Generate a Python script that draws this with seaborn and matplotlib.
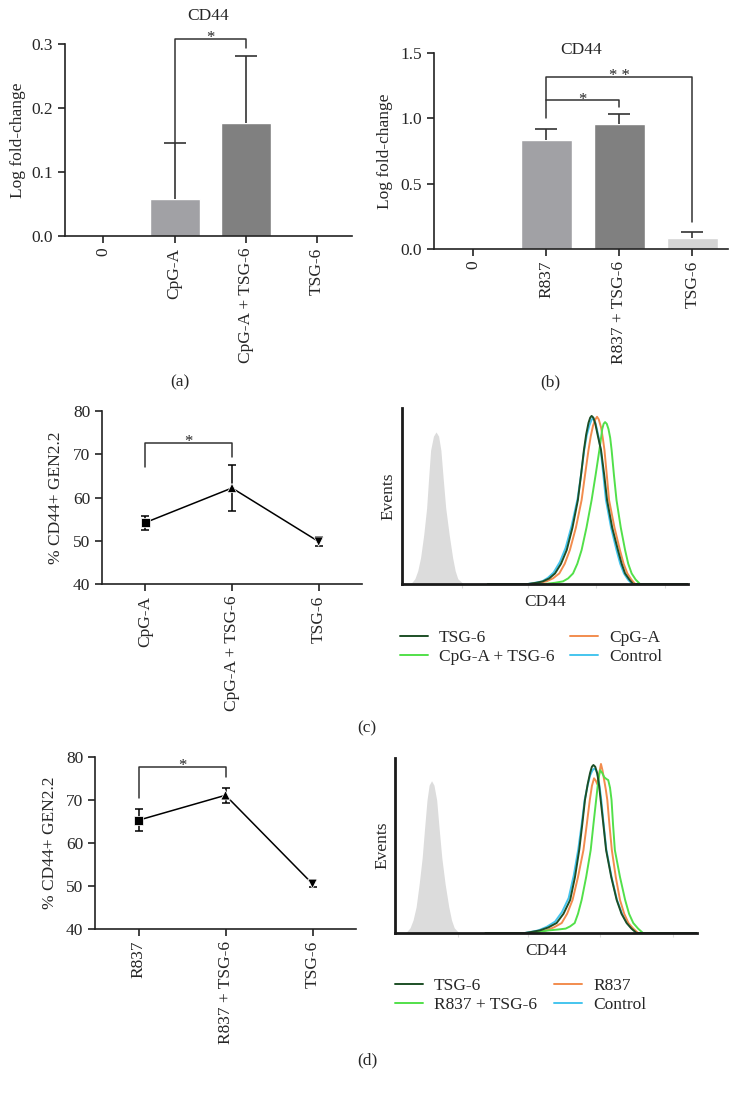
import numpy as np
import pandas as pd
import matplotlib
matplotlib.use("Agg")
import matplotlib.pyplot as plt
import seaborn as sns

sns.set_style("ticks")
plt.rcParams['font.family'] = ['Liberation Serif', 'DejaVu Serif']
plt.rcParams['font.size'] = 12

# ---- data ----
a_cats = ["0", "CpG-A", "CpG-A + TSG-6", "TSG-6"]
a_vals = [0.0, 0.058, 0.177, 0.0]
a_err = [0.0, 0.088, 0.104, 0.0]
a_colors = ["#a1a1a5", "#a1a1a5", "#808080", "#d4d4d4"]

b_cats = ["0", "R837", "R837 + TSG-6", "TSG-6"]
b_vals = [0.0, 0.834, 0.954, 0.082]
b_err = [0.0, 0.082, 0.079, 0.050]
b_colors = ["#a1a1a5", "#a1a1a5", "#808080", "#d4d4d4"]

c_cats = ["CpG-A", "CpG-A + TSG-6", "TSG-6"]
c_means = [54.2, 62.2, 49.8]
c_err = [1.6, 5.3, 1.0]

d_cats = ["R837", "R837 + TSG-6", "TSG-6"]
d_means = [65.3, 71.1, 50.5]
d_err = [2.5, 1.8, 0.8]

markers = ["s", "^", "v"]

# significance brackets: (left cat, right cat, bar height, left leg end, right leg end, text)
a_sig = [(1, 2, 0.308, 0.146, 0.293, "*")]
b_sig = [(1, 2, 1.14, 1.00, 1.09, "*"), (1, 3, 1.32, 1.14, 0.21, "* *")]
c_sig = [(0, 1, 72.6, 67.0, 69.4, "*")]
d_sig = [(0, 1, 77.7, 70.5, 75.3, "*")]

# flow cytometry histograms (x: CD44 channel 0-100, y: % of max events)
c_iso_x = [0, 2.5, 3.5, 4.5, 5.5, 6.5, 7.6, 8.6, 9.3, 10, 11, 11.9, 12.8, 13.6, 14.4, 15.3, 16.5, 17.7, 18.6, 19.5, 21.5, 30]
c_iso_y = [0, 0, 1, 3, 7.5, 15, 28, 43, 60, 76, 84, 86.4, 84, 76, 60, 43, 28, 15, 7.5, 3, 0, 0]
c_tsg_x = [30, 44, 47, 49.3, 51.5, 53.5, 55.6, 57.6, 59.6, 61.5, 62.6, 63.6, 64.4, 65.2, 65.8, 66.3, 66.9, 67.6, 68.5, 69.6, 70.7, 71.7, 73.5, 75.5, 76.8, 78, 79.5, 80.8, 100]
c_tsg_y = [0, 0, 0.7, 1.5, 3.2, 6, 11.5, 19.3, 32, 47.7, 62, 76, 85, 91.5, 94.5, 95.5, 94.5, 91, 84, 76, 62, 47.7, 32, 19.3, 11.5, 6, 2.5, 0, 0]
c_ctl_x = [30, 44, 46.5, 49, 51, 53, 55.2, 57.2, 59.3, 61.4, 62.6, 63.7, 64.6, 65.5, 66.2, 66.8, 67.4, 68.0, 68.8, 69.5, 70.4, 71.3, 73.1, 75.0, 76.3, 77.6, 79.0, 80.5, 100]
c_ctl_y = [0, 0, 0.7, 1.5, 3.5, 6.5, 12.5, 20.5, 33, 48.5, 62, 76, 84.5, 90, 93, 94.5, 93, 89, 83, 76, 62, 47.7, 32, 19.3, 11.5, 6, 2.5, 0, 0]
c_stim_x = [30, 45, 48, 50.5, 52.8, 55, 56.9, 58.7, 60.8, 62.8, 64.0, 65.2, 66.0, 66.8, 67.6, 68.2, 68.8, 69.6, 70.2, 70.8, 71.6, 72.4, 74.3, 76.2, 77.5, 78.8, 80.2, 81.5, 100]
c_stim_y = [0, 0, 0.7, 1.5, 3.2, 6, 11.5, 19.3, 32, 47.7, 62, 76, 84, 90, 93.5, 95, 93.5, 89, 83, 76, 62, 47.7, 32, 19.3, 11.5, 6, 2.5, 0, 0]
c_comb_x = [30, 50, 53.5, 56.3, 58.1, 59.8, 61.3, 62.8, 64.5, 66.3, 67.7, 69.0, 69.6, 70.0, 70.5, 71.0, 71.6, 72.2, 72.8, 73.3, 74.1, 75.0, 76.5, 78.0, 79.1, 80.3, 81.7, 83.2, 100]
c_comb_y = [0, 0, 0.7, 1.5, 3.2, 6, 11.5, 19.3, 32, 47.7, 62, 76, 83, 88, 91, 92, 91, 88, 83, 76, 62, 47.7, 32, 19.3, 11.5, 6, 2.5, 0, 0]

d_iso_x = [0, 3, 4, 5, 6, 7, 8, 9, 9.8, 10.6, 11.3, 12.1, 12.9, 13.8, 14.6, 15.5, 16.6, 17.8, 18.7, 19.6, 21.2, 30]
d_iso_y = [0, 0, 1, 3, 7.5, 15, 28, 43, 60, 76, 84.5, 87, 84.5, 76, 60, 43, 28, 15, 7.5, 3, 0, 0]
d_tsg_x = [30, 43, 45.5, 48, 50.8, 53.5, 55.8, 58, 59.6, 61, 62, 62.9, 63.8, 64.6, 65.2, 65.7, 66.3, 67, 67.6, 68.1, 69, 69.9, 71.6, 73.4, 75, 76.7, 78.3, 80, 100]
d_tsg_y = [0, 0, 0.7, 1.5, 3.2, 5.7, 11, 18.9, 32, 47.4, 62, 76, 85, 91.5, 95, 96, 95, 91, 84, 76, 62, 47.4, 32, 18.9, 11, 5.7, 2.5, 0, 0]
d_ctl_x = [30, 43, 45.2, 47.5, 50.2, 53, 55.3, 57.5, 59.2, 60.7, 61.8, 62.8, 63.8, 64.6, 65.4, 66.0, 66.6, 67.3, 67.8, 68.3, 69.1, 70, 71.7, 73.5, 75.2, 76.8, 78.5, 80.2, 100]
d_ctl_y = [0, 0, 0.7, 1.5, 3.5, 6.5, 12, 20, 33, 48, 62, 76, 84.5, 90, 93, 94, 93, 89, 83, 76, 62, 47.4, 32, 18.9, 11, 5.7, 2.5, 0, 0]
d_stim_x = [30, 45, 47.5, 50, 52.6, 55.2, 57, 58.8, 60.6, 62.4, 63.5, 64.5, 65.2, 65.9, 66.5, 67, 67.6, 68.2, 68.7, 69.2, 69.8, 70.3, 71, 71.8, 73.1, 74.5, 75.9, 77.3, 78.9, 80.5, 100]
d_stim_y = [0, 0, 0.7, 1.5, 3.2, 5.7, 11, 18.9, 32, 47.4, 62, 76, 84, 88.4, 87, 85, 91, 96.6, 93, 88, 82, 76, 62, 47.4, 32, 18.9, 11, 5.7, 2.5, 0, 0]
d_comb_x = [30, 45, 48, 51, 54, 56.5, 58, 59.5, 60.6, 61.8, 63.3, 64.8, 65.7, 66.6, 67.3, 67.9, 68.6, 69.3, 70, 70.6, 71.2, 71.7, 72.2, 72.8, 74.5, 76.2, 77.5, 78.9, 80.5, 82.1, 100]
d_comb_y = [0, 0, 0.8, 1.5, 2, 2.5, 3.8, 5.7, 11, 18.9, 32, 47.4, 62, 76, 87, 93, 91.5, 89, 88, 87.4, 83, 76, 62, 47.4, 32, 18.9, 11, 5.7, 2.5, 0, 0]

hist_ticks = [21, 44, 68, 92]
col_tsg = "#1d4f26"
col_comb = "#52e04a"
col_stim = "#f28c4e"
col_ctl = "#45c5ee"
col_iso = "#dcdcdc"

W, H = 739, 1094
fig = plt.figure(figsize=(W / 100, H / 100), dpi=100)


def px_axes(l, t, r, b):
    return fig.add_axes([l / W, 1 - b / H, (r - l) / W, (b - t) / H])


def style_axes(ax):
    sns.despine(ax=ax)
    for s in ["left", "bottom"]:
        ax.spines[s].set_linewidth(1.2)
        ax.spines[s].set_color("#222222")
    ax.tick_params(length=5, width=1.2, color="#222222", labelsize=12.5)


def brackets(ax, sig):
    for i, j, y, y1, y2, txt in sig:
        ax.plot([i, i, j, j], [y1, y, y, y2], color="#333333", lw=1.1, clip_on=False)
        ax.annotate(txt, ((i + j) / 2, y), xytext=(0, -2.5), textcoords="offset points",
                    ha="center", va="baseline", fontsize=12, annotation_clip=False)


def bar_panel(ax, cats, vals, err, colors, ylim, yticks, sig, title_y):
    df = pd.DataFrame({"cond": cats, "val": vals})
    sns.barplot(data=df, x="cond", y="val", hue="cond", palette=colors, legend=False,
                width=0.7, saturation=1, ax=ax)
    for i, (v, e) in enumerate(zip(vals, err)):
        if e > 0:
            eb = ax.errorbar(i, v, yerr=[[0], [e]], fmt="none", ecolor="#333333",
                             elinewidth=1.2, capsize=8, capthick=1.2)
            eb[1][0].set_visible(False)  # only the upper cap
    ax.set_ylim(*ylim)
    ax.set_yticks(yticks)
    ax.set_yticklabels([f"{t:.1f}" for t in yticks])
    ax.set_xlim(-0.54, 3.49)
    ax.set_xlabel("")
    ax.set_ylabel("Log fold-change", fontsize=12.5, va="center")
    ax.tick_params(axis="x", labelrotation=90)
    style_axes(ax)
    brackets(ax, sig)
    ax.text(0.5, title_y, "CD44", transform=ax.transAxes, ha="center", va="center", fontsize=12.5)


def line_panel(ax, cats, means, err, sig):
    pos = list(range(len(cats)))
    sns.lineplot(x=pos, y=means, color="black", lw=1.1, ax=ax)
    ax.errorbar(pos, means, yerr=err, fmt="none", ecolor="black", elinewidth=1.1,
                capsize=3, capthick=1.1)
    sns.scatterplot(x=pos, y=means, style=cats, markers=dict(zip(cats, markers)),
                    color="black", s=45, legend=False, ax=ax, zorder=3)
    ax.set_xticks(pos)
    ax.set_xticklabels(cats, rotation=90)
    ax.set_xlim(-0.5, 2.5)
    ax.set_ylim(40, 80)
    ax.set_yticks([40, 50, 60, 70, 80])
    ax.set_ylabel("% CD44+ GEN2.2", fontsize=12.5, va="center")
    style_axes(ax)
    brackets(ax, sig)


def hist_panel(ax, iso, curves, labels):
    ax.fill_between(iso[0], iso[1], color=col_iso, lw=0)
    lines = {}
    for (x, y, col), lab in zip(curves, labels):
        sns.lineplot(x=x, y=y, color=col, lw=1.4, ax=ax, label=lab, legend=False)
        lines[lab] = ax.lines[-1]
    ax.set_xlim(0, 100)
    ax.set_ylim(0, 100)
    ax.set_yticks([])
    ax.set_xticks(hist_ticks)
    ax.set_xticklabels([])
    ax.tick_params(axis="x", length=3, width=0.8, color="#dddddd")
    sns.despine(ax=ax)
    for s in ["left", "bottom"]:
        ax.spines[s].set_linewidth(2.0)
        ax.spines[s].set_color("#1a1a1a")
    ax.set_ylabel("Events", fontsize=12.5, va="center")
    ax.set_xlabel("CD44", fontsize=12.5, labelpad=1)
    return lines


# (a)
ax_a = px_axes(65, 44, 352, 236)
bar_panel(ax_a, a_cats, a_vals, a_err, a_colors, (0, 0.3), [0.0, 0.1, 0.2, 0.3], a_sig, 1.146)
ax_a.yaxis.set_label_coords(-0.164, 0.5)

# (b)
ax_b = px_axes(434, 53, 728, 249)
bar_panel(ax_b, b_cats, b_vals, b_err, b_colors, (0, 1.5), [0.0, 0.5, 1.0, 1.5], b_sig, 1.015)
ax_b.yaxis.set_label_coords(-0.167, 0.5)

# (c) line
ax_c = px_axes(102, 411, 362, 584)
line_panel(ax_c, c_cats, c_means, c_err, c_sig)
ax_c.yaxis.set_label_coords(-0.177, 0.5)

# (c) histogram
ax_ch = px_axes(402, 408, 688, 584)
c_labels = ["Control", "CpG-A", "CpG-A + TSG-6", "TSG-6"]
c_lines = hist_panel(ax_ch, (c_iso_x, c_iso_y),
                     [(c_ctl_x, c_ctl_y, col_ctl), (c_stim_x, c_stim_y, col_stim),
                      (c_comb_x, c_comb_y, col_comb), (c_tsg_x, c_tsg_y, col_tsg)], c_labels)
ax_ch.yaxis.set_label_coords(-0.049, 0.5)
order = ["TSG-6", "CpG-A + TSG-6", "CpG-A", "Control"]
fig.legend([c_lines[k] for k in order], order, loc="upper left",
           bbox_to_anchor=(400 / W, 1 - 630 / H), ncol=2, frameon=False, fontsize=12.5,
           handlelength=1.6, handletextpad=0.65, columnspacing=0.9, labelspacing=0.15,
           borderpad=0, borderaxespad=0)

# (d) line
ax_d = px_axes(95, 757, 356, 929)
line_panel(ax_d, d_cats, d_means, d_err, d_sig)
ax_d.yaxis.set_label_coords(-0.172, 0.5)

# (d) histogram
ax_dh = px_axes(395, 758, 697, 933)
d_labels = ["Control", "R837", "R837 + TSG-6", "TSG-6"]
d_lines = hist_panel(ax_dh, (d_iso_x, d_iso_y),
                     [(d_ctl_x, d_ctl_y, col_ctl), (d_stim_x, d_stim_y, col_stim),
                      (d_comb_x, d_comb_y, col_comb), (d_tsg_x, d_tsg_y, col_tsg)], d_labels)
ax_dh.yaxis.set_label_coords(-0.04, 0.5)
order = ["TSG-6", "R837 + TSG-6", "R837", "Control"]
fig.legend([d_lines[k] for k in order], order, loc="upper left",
           bbox_to_anchor=(395 / W, 1 - 978 / H), ncol=2, frameon=False, fontsize=12.5,
           handlelength=1.6, handletextpad=0.65, columnspacing=1.0, labelspacing=0.15,
           borderpad=0, borderaxespad=0)

# panel letters
for txt, x, y in [("(a)", 180, 382), ("(b)", 550, 382), ("(c)", 367, 728), ("(d)", 367, 1060)]:
    fig.text(x / W, 1 - y / H, txt, ha="center", va="center", fontsize=12.5)

fig.savefig("out.png", dpi=100)
